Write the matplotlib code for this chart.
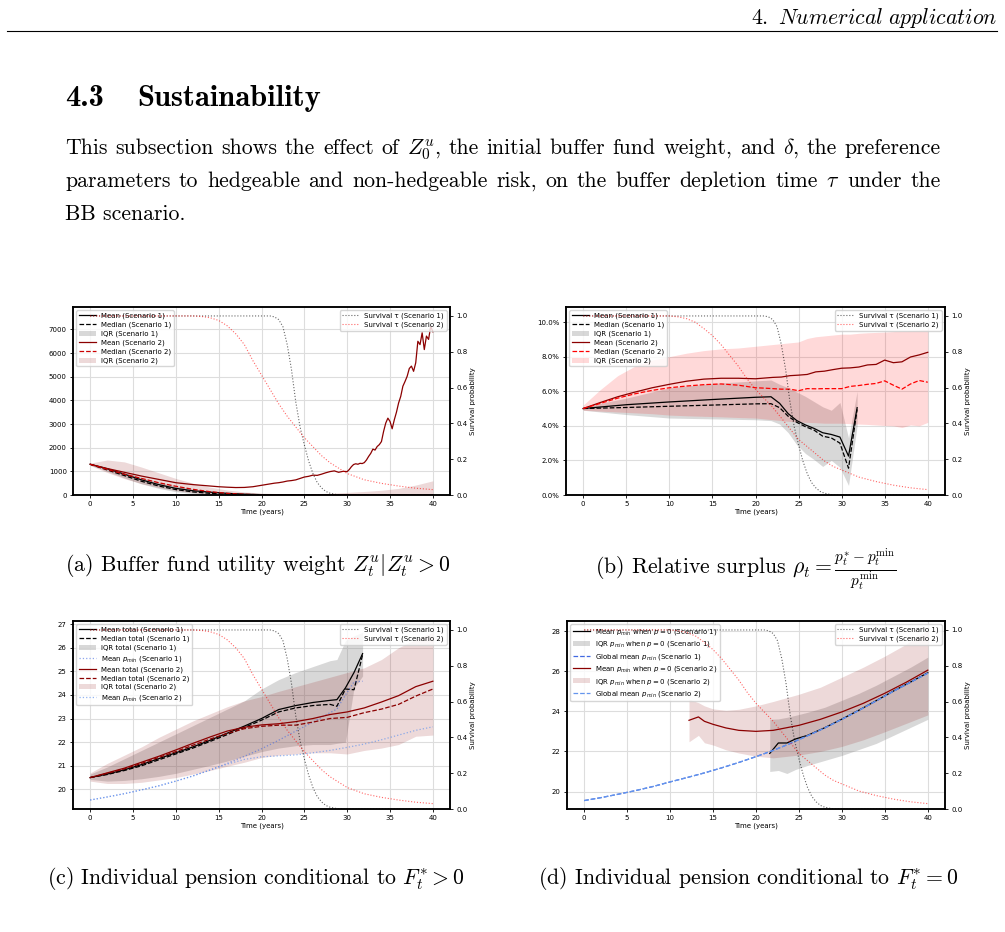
import numpy as np
import matplotlib
matplotlib.use("Agg")
import matplotlib.pyplot as plt
from matplotlib.ticker import PercentFormatter

# ---------------- survival curves (shared by the four panels) ----------------
surv_t1 = [0, 21, 21.5, 22, 22.5, 23, 23.5, 24, 24.5, 25, 25.5, 26, 26.5, 27, 27.5, 28, 29, 40]
surv_sc1 = [1.0, 1.0, 0.995, 0.98, 0.94, 0.84, 0.70, 0.52, 0.38, 0.28, 0.19, 0.12, 0.07, 0.04, 0.02, 0.01, 0.0, 0.0]
surv_t2 = [0, 10, 11, 12, 13, 14, 15, 16, 17, 18, 19, 20, 21, 22, 23, 24, 25, 26, 27, 28, 29, 30, 32, 34, 36, 38, 40]
surv_sc2_a = [1.0, 1.0, 1.0, 1.0, 0.997, 0.99, 0.975, 0.945, 0.9, 0.84, 0.75, 0.67, 0.59, 0.51, 0.44, 0.38, 0.32,
              0.27, 0.22, 0.18, 0.15, 0.12, 0.085, 0.065, 0.05, 0.038, 0.03]
surv_sc2_b = [1.0, 1.0, 0.995, 0.985, 0.965, 0.93, 0.89, 0.84, 0.78, 0.72, 0.65, 0.59, 0.54, 0.49, 0.43, 0.37, 0.31,
              0.27, 0.23, 0.19, 0.16, 0.14, 0.10, 0.075, 0.055, 0.04, 0.03]

# ---------------- (a) buffer fund utility weight ----------------
t_a = list(range(0, 41, 2))
a_mean1 = [1300, 1110, 880, 640, 440, 280, 180, 120, 70, 35, 15, 5, 0, 0, 0, 0, 0, 0, 0, 0, 0]
a_med1 = [1300, 1060, 820, 580, 380, 230, 130, 70, 30, 10, 0, 0, 0, 0, 0, 0, 0, 0, 0, 0, 0]
a_iqr1_hi = [1330, 1150, 950, 730, 540, 380, 250, 160, 90, 40, 15, 0, 0, 0, 0, 0, 0, 0, 0, 0, 0]
a_iqr1_lo = [1270, 1000, 720, 470, 280, 140, 60, 20, 0, 0, 0, 0, 0, 0, 0, 0, 0, 0, 0, 0, 0]
a_med2 = [1300, 1080, 880, 700, 520, 370, 240, 140, 70, 30, 10, 0, 0, 0, 0, 0, 0, 0, 0, 0, 0]
a_iqr2_hi = [1350, 1480, 1400, 1180, 940, 700, 500, 330, 210, 130, 80, 60, 55, 60, 70, 110, 150, 200, 280, 420, 600]
a_iqr2_lo = [1250, 950, 690, 480, 320, 190, 100, 50, 20, 5, 0, 0, 0, 0, 0, 0, 0, 0, 0, 0, 0]
# scenario 2 mean is noisy: yearly, then half-year, then quarter-year points
t_a_mean2 = np.concatenate([np.arange(0, 21, 1.0), np.arange(20.5, 30.01, 0.5), np.arange(30.25, 40.01, 0.25)])
a_mean2 = [1300, 1210, 1120, 1040, 960, 880, 800, 730, 660, 590, 520, 480, 440, 410, 380, 350, 330, 315, 320, 350, 410,
           440, 470, 500, 520, 550, 590, 610, 640, 700, 760, 790, 840, 830, 880, 940, 990, 1020, 960, 1000, 990,
           1080, 1200, 1290, 1320, 1300, 1340, 1330, 1370, 1480, 1630, 1760, 1940, 1900, 2050, 2130, 2260,
           2690, 3040, 3250, 3110, 2800, 3180, 3500, 3890, 4170, 4600, 4800, 5020, 5350, 5450, 5230, 5590,
           6500, 6360, 6860, 6150, 6720, 6580, 7140, 6900]

# ---------------- (b) relative surplus, in percent ----------------
t_b1 = [0, 5, 10, 15, 20, 21.8, 22.8, 23.8, 24.8, 25.8, 26.8, 27.8, 28.8, 29.8, 30.8, 31.8]
b_mean1 = [5.0, 5.22, 5.38, 5.52, 5.65, 5.68, 5.3, 4.7, 4.3, 4.05, 3.85, 3.6, 3.5, 3.35, 2.25, 5.05]
b_med1 = [5.0, 5.06, 5.13, 5.2, 5.27, 5.28, 5.05, 4.55, 4.2, 3.95, 3.75, 3.4, 3.3, 3.0, 1.55, 4.95]
b_iqr1_hi = [5.1, 5.6, 6.2, 6.45, 6.6, 6.65, 6.4, 6.2, 5.95, 5.7, 5.4, 5.1, 4.9, 5.35, 3.3, 6.0]
b_iqr1_lo = [4.9, 4.65, 4.45, 4.4, 4.35, 4.3, 4.1, 3.6, 2.9, 2.4, 2.05, 1.65, 2.0, 1.6, 0.55, 4.0]
t_b2 = [0, 2, 4, 6, 8, 10, 12, 14, 16, 18, 20, 21, 22, 23, 24, 25, 26, 27, 28, 29, 30,
        31, 32, 33, 34, 35, 36, 37, 38, 39, 40]
b_mean2 = [5.0, 5.35, 5.68, 5.95, 6.2, 6.4, 6.58, 6.7, 6.75, 6.75, 6.72, 6.76, 6.8, 6.82, 6.9, 6.93, 6.97, 7.12,
           7.16, 7.25, 7.33, 7.35, 7.4, 7.52, 7.55, 7.8, 7.65, 7.7, 7.98, 8.1, 8.25]
b_med2 = [5.0, 5.3, 5.6, 5.85, 6.05, 6.2, 6.3, 6.38, 6.42, 6.35, 6.2, 6.18, 6.15, 6.12, 6.12, 6.03, 6.15, 6.14,
          6.15, 6.15, 6.15, 6.28, 6.33, 6.4, 6.45, 6.6, 6.35, 6.12, 6.42, 6.62, 6.52]
b_iqr2_hi = [5.2, 6.1, 6.9, 7.45, 7.8, 8.0, 8.2, 8.35, 8.45, 8.5, 8.6, 8.65, 8.7, 8.75, 8.8, 8.85, 9.05, 9.15,
             9.2, 9.25, 9.3, 9.3, 9.35, 9.38, 9.4, 9.42, 9.45, 9.48, 9.5, 9.52, 9.55]
b_iqr2_lo = [4.9, 4.85, 4.8, 4.75, 4.7, 4.62, 4.58, 4.55, 4.52, 4.48, 4.45, 4.4, 4.35, 4.3, 4.25, 4.22, 4.2, 4.18,
             4.15, 4.15, 4.15, 4.12, 4.1, 4.08, 4.05, 4.02, 4.0, 3.9, 4.05, 4.0, 4.2]

# ---------------- (c) pension conditional to F* > 0 ----------------
t_c1 = [0, 2, 4, 6, 8, 10, 12, 14, 16, 18, 20, 22, 24, 26, 28, 28.8, 29.8, 30.8, 31.8]
c_mean1 = [20.5, 20.65, 20.83, 21.05, 21.3, 21.55, 21.8, 22.08, 22.38, 22.68, 23.0, 23.38, 23.55, 23.68, 23.77,
           23.8, 24.3, 24.95, 25.75]
c_med1 = [20.5, 20.63, 20.8, 21.0, 21.25, 21.5, 21.75, 22.03, 22.32, 22.62, 22.93, 23.28, 23.45, 23.55, 23.6,
          23.52, 24.25, 24.22, 25.7]
c_iqr1_hi = [20.65, 20.95, 21.3, 21.65, 22.0, 22.35, 22.7, 23.05, 23.4, 23.75, 24.25, 24.65, 24.95, 25.2, 25.45,
             25.5, 26.3, 26.5, 26.65]
c_iqr1_lo = [20.42, 20.35, 20.38, 20.45, 20.55, 20.68, 20.85, 21.02, 21.2, 21.4, 21.6, 21.75, 21.85, 21.9, 21.9,
             21.95, 22.0, 24.3, 24.8]
c_pmin1 = [19.55, 19.68, 19.82, 19.98, 20.15, 20.35, 20.57, 20.82, 21.1, 21.4, 21.72, 22.08, 22.47, 22.85, 23.25,
           23.4, 24.0, 24.55, 24.58]
t_c2 = list(range(0, 41, 2))
c_mean2 = [20.5, 20.7, 20.9, 21.15, 21.4, 21.67, 21.95, 22.22, 22.47, 22.63, 22.73, 22.78, 22.87, 23.0, 23.17,
           23.28, 23.45, 23.7, 23.97, 24.35, 24.58]
c_med2 = [20.5, 20.68, 20.87, 21.1, 21.35, 21.6, 21.87, 22.13, 22.37, 22.57, 22.67, 22.72, 22.72, 22.85, 23.0,
          23.05, 23.25, 23.4, 23.6, 23.95, 24.25]
c_iqr2_hi = [20.7, 21.1, 21.45, 21.8, 22.2, 22.55, 22.9, 23.2, 23.5, 23.75, 23.93, 24.15, 24.35, 24.55, 24.75,
             24.95, 25.15, 25.5, 26.0, 26.35, 26.65]
c_iqr2_lo = [20.35, 20.25, 20.25, 20.3, 20.4, 20.5, 20.65, 20.8, 20.98, 21.15, 21.35, 21.45, 21.5, 21.55, 21.55,
             21.5, 21.65, 21.75, 21.9, 22.25, 22.3]
c_pmin2 = [19.55, 19.68, 19.82, 19.98, 20.15, 20.35, 20.57, 20.82, 21.07, 21.27, 21.38, 21.42, 21.46, 21.55,
           21.65, 21.78, 21.92, 22.1, 22.3, 22.5, 22.65]

# ---------------- (d) pension conditional to F* = 0 ----------------
t_d1 = [21.6, 22.6, 23.6, 24.6, 26, 28, 30, 32, 34, 36, 38, 40]
d_mean1 = [21.9, 22.42, 22.42, 22.62, 22.8, 23.18, 23.61, 24.06, 24.53, 25.01, 25.46, 25.92]
d_iqr1_hi = [23.6, 23.62, 23.7, 23.8, 23.95, 24.2, 24.55, 24.9, 25.3, 25.75, 26.2, 26.7]
d_iqr1_lo = [21.0, 21.05, 20.9, 21.1, 21.3, 21.55, 21.8, 22.1, 22.4, 22.8, 23.2, 23.6]
t_d2 = [12.2, 13.3, 14, 15, 16.5, 18, 20, 22, 25, 27.5, 30, 32.5, 35, 37.5, 40]
d_mean2 = [23.55, 23.72, 23.5, 23.35, 23.17, 23.05, 23.0, 23.05, 23.3, 23.6, 23.97, 24.4, 24.9, 25.45, 26.05]
d_iqr2_hi = [24.6, 24.43, 24.27, 24.12, 24.05, 24.1, 24.27, 24.49, 24.85, 25.2, 25.7, 26.2, 26.75, 27.35, 28.05]
d_iqr2_lo = [22.48, 22.8, 22.43, 22.32, 22.08, 21.92, 21.76, 21.68, 21.82, 22.0, 22.25, 22.58, 22.98, 23.4, 23.82]
t_d = list(range(0, 41, 2))
d_global1 = [19.55, 19.7, 19.87, 20.05, 20.25, 20.48, 20.7, 20.93, 21.18, 21.45, 21.74, 22.05, 22.4, 22.78,
             23.17, 23.6, 24.05, 24.52, 25.0, 25.45, 25.9]
d_global2 = [19.55, 19.7, 19.87, 20.05, 20.25, 20.48, 20.7, 20.93, 21.18, 21.45, 21.74, 22.05, 22.4, 22.78,
             23.17, 23.6, 24.05, 24.52, 25.0, 25.45, 25.9]

FS = 5
LEG = dict(fontsize=FS, borderpad=0.35, labelspacing=0.35, handlelength=2.4, framealpha=0.8)

fig = plt.figure(figsize=(10.05, 9.32), dpi=100)
W, H = 1005, 932


def panel(left, top, right, bottom):
    ax = fig.add_axes([left / W, 1 - bottom / H, (right - left) / W, (bottom - top) / H])
    ax2 = ax.twinx()
    return ax, ax2


def finish(ax, ax2, surv2):
    ax2.plot(surv_t1, surv_sc1, color="k", ls=":", lw=0.8, alpha=0.6, label="Survival τ (Scenario 1)")
    ax2.plot(surv_t2, surv2, color="red", ls=":", lw=0.8, alpha=0.6, label="Survival τ (Scenario 2)")
    ax2.set_ylim(0, 1.05)
    ax2.set_ylabel("Survival probability", fontsize=FS, labelpad=2)
    ax2.legend(loc="upper right", **LEG)
    ax.set_xlim(-2, 42)
    ax.set_xticks(range(0, 41, 5))
    ax.set_xlabel("Time (years)", fontsize=FS, labelpad=1)
    ax.grid(True, color="#dddddd", lw=0.8)
    ax.set_axisbelow(True)
    ax.legend(loc="upper left", **LEG)
    for a in (ax, ax2):
        a.tick_params(labelsize=FS, length=2.5, width=0.6, pad=2)
        for s in a.spines.values():
            s.set_linewidth(1.1)


# (a)
ax, ax2 = panel(73, 307, 450, 495)
ax.plot(t_a, a_mean1, color="k", lw=0.9, label="Mean (Scenario 1)")
ax.plot(t_a, a_med1, color="k", ls="--", lw=0.9, label="Median (Scenario 1)")
ax.fill_between(t_a, a_iqr1_lo, a_iqr1_hi, color="gray", alpha=0.3, lw=0, label="IQR (Scenario 1)")
ax.plot(t_a_mean2, a_mean2, color="darkred", lw=0.9, label="Mean (Scenario 2)")
ax.plot(t_a, a_med2, color="#cc0000", ls="--", lw=0.9, label="Median (Scenario 2)")
ax.fill_between(t_a, a_iqr2_lo, a_iqr2_hi, color="darkred", alpha=0.15, lw=0, label="IQR (Scenario 2)")
ax.set_ylim(0, 7950)
ax.set_yticks(range(0, 7001, 1000))
finish(ax, ax2, surv_sc2_a)

# (b)
ax, ax2 = panel(566, 307, 945, 495)
ax.plot(t_b1, b_mean1, color="k", lw=0.9, label="Mean (Scenario 1)")
ax.plot(t_b1, b_med1, color="k", ls="--", lw=0.9, label="Median (Scenario 1)")
ax.fill_between(t_b1, b_iqr1_lo, b_iqr1_hi, color="gray", alpha=0.3, lw=0, label="IQR (Scenario 1)")
ax.plot(t_b2, b_mean2, color="darkred", lw=0.9, label="Mean (Scenario 2)")
ax.plot(t_b2, b_med2, color="red", ls="--", lw=0.9, label="Median (Scenario 2)")
ax.fill_between(t_b2, b_iqr2_lo, b_iqr2_hi, color="red", alpha=0.15, lw=0, label="IQR (Scenario 2)")
ax.set_ylim(0, 10.87)
ax.set_yticks(np.arange(0, 10.1, 2))
ax.yaxis.set_major_formatter(PercentFormatter(100, decimals=1))
finish(ax, ax2, surv_sc2_b)

# (c)
ax, ax2 = panel(73, 621, 450, 809)
ax.plot(t_c1, c_mean1, color="k", lw=0.9, label="Mean total (Scenario 1)")
ax.plot(t_c1, c_med1, color="k", ls="--", lw=0.9, label="Median total (Scenario 1)")
ax.fill_between(t_c1, c_iqr1_lo, c_iqr1_hi, color="gray", alpha=0.3, lw=0, label="IQR total (Scenario 1)")
ax.plot(t_c1, c_pmin1, color="royalblue", ls=":", lw=0.9, alpha=0.6, label="Mean $p_{min}$ (Scenario 1)")
ax.plot(t_c2, c_mean2, color="darkred", lw=0.9, label="Mean total (Scenario 2)")
ax.plot(t_c2, c_med2, color="darkred", ls="--", lw=0.9, label="Median total (Scenario 2)")
ax.fill_between(t_c2, c_iqr2_lo, c_iqr2_hi, color="darkred", alpha=0.15, lw=0, label="IQR total (Scenario 2)")
ax.plot(t_c2, c_pmin2, color="cornflowerblue", ls=":", lw=0.9, alpha=0.7, label="Mean $p_{min}$ (Scenario 2)")
ax.set_ylim(19.17, 27.13)
ax.set_yticks(range(20, 28))
finish(ax, ax2, surv_sc2_a)

# (d)
ax, ax2 = panel(567, 621, 945, 809)
ax.plot(t_d1, d_mean1, color="k", lw=0.9, label="Mean $p_{min}$ when $p=0$ (Scenario 1)")
ax.fill_between(t_d1, d_iqr1_lo, d_iqr1_hi, color="gray", alpha=0.3, lw=0,
                label="IQR $p_{min}$ when $p=0$ (Scenario 1)")
ax.plot(t_d, d_global1, color="royalblue", ls="--", lw=0.9, label="Global mean $p_{min}$ (Scenario 1)")
ax.plot(t_d2, d_mean2, color="darkred", lw=0.9, label="Mean $p_{min}$ when $p=0$ (Scenario 2)")
ax.fill_between(t_d2, d_iqr2_lo, d_iqr2_hi, color="darkred", alpha=0.15, lw=0,
                label="IQR $p_{min}$ when $p=0$ (Scenario 2)")
ax.plot(t_d, d_global2, color="cornflowerblue", ls="--", lw=0.9, label="Global mean $p_{min}$ (Scenario 2)")
ax.set_ylim(19.13, 28.5)
ax.set_yticks(range(20, 29, 2))
finish(ax, ax2, surv_sc2_b)

# ---------------- page text ----------------
TXT = dict(family="cmr10", math_fontfamily="cm", color="black")
BODY = 15.7


def put(x, y, s, size, ha="left", **kw):
    opts = dict(TXT)
    opts.update(kw)
    return fig.text(x / W, 1 - y / H, s, fontsize=size, ha=ha, va="baseline", **opts)


def justify(y, line, size, x0=65, x1=941):
    # place the words one by one so the line fills x0..x1, like LaTeX does
    words = line.split(" ")
    texts = [put(0, y, w, size) for w in words]
    r = fig.canvas.get_renderer()
    widths = [t.get_window_extent(r).width for t in texts]
    gap = (x1 - x0 - sum(widths)) / (len(words) - 1)
    x = x0
    for t, w in zip(texts, widths):
        t.set_x(x / W)
        x += w + gap


put(997, 24, r"$\mathrm{4.}\ \mathit{Numerical\ application}$", BODY, ha="right")
fig.add_artist(plt.Line2D([7 / W, 997 / W], [1 - 31 / H, 1 - 31 / H], color="black", lw=0.8))
put(65, 106, "4.3", 22, family="cmb10")
put(137, 106, "Sustainability", 22, family="cmb10")
justify(154, r"This subsection shows the effect of $Z_0^u$, the initial buffer fund weight, and $\delta$, the preference", BODY)
justify(187, r"parameters to hedgeable and non-hedgeable risk, on the buffer depletion time $\tau$ under the", BODY)
put(65, 220, "BB scenario.", BODY)

put(65, 571, r"(a) Buffer fund utility weight $Z_t^u|Z_t^u > 0$", BODY)
put(595, 575, r"(b) Relative surplus $\rho_t = \frac{p_t^{*} - p_t^{\min}}{p_t^{\min}}$", BODY)
put(47, 884, r"(c) Individual pension conditional to $F_t^{*} > 0$", BODY)
put(538, 884, r"(d) Individual pension conditional to $F_t^{*} = 0$", BODY)

fig.savefig("out.png", dpi=100, facecolor="white")
